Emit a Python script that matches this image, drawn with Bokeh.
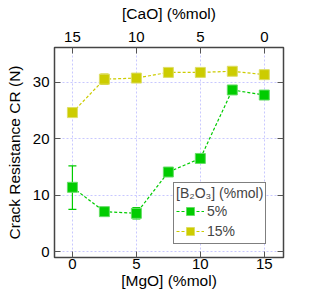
from bokeh.plotting import figure
from bokeh.models import (Range1d, LinearAxis, FixedTicker, ColumnDataSource,
                          Whisker, Legend, LegendItem, TeeHead)
from bokeh.embed import file_html
from bokeh.resources import INLINE

# ---- data ----
mgo = [0, 2.5, 5, 7.5, 10, 12.5, 15]
cao_tick_labels = ["15", "10", "5", "0"]
x_ticks = [0, 5, 10, 15]
y_ticks = [0, 10, 20, 30]
cr_b5 = [11.4, 7.1, 6.8, 14.1, 16.5, 28.6, 27.7]
cr_b15 = [24.6, 30.5, 30.7, 31.7, 31.7, 31.9, 31.3]
err_b5_x = [0, 5]
err_b5_lo = [7.5, 5.8]
err_b5_hi = [15.2, 7.8]
err_b15_x = [2.5]
err_b15_lo = [29.6]
err_b15_hi = [31.4]

FONT = "Liberation Sans"
GREEN = "#00cc00"
GREEN_EDGE = "#66dd66"
YELLOW = "#cccc00"
YELLOW_EDGE = "#dddd66"

p = figure(width=301, height=292, output_backend="svg", toolbar_location=None,
           x_range=Range1d(-1.4, 16.5), y_range=Range1d(-1.0, 36.1),
           min_border_left=54, min_border_right=18, min_border_top=47,
           min_border_bottom=35)

p.outline_line_color = "#444444"
p.outline_line_width = 1.5
p.background_fill_color = "white"
p.border_fill_color = "white"

for g in (p.xgrid, p.ygrid):
    g.grid_line_color = "#c8c8ff"
    g.grid_line_dash = "2 2"
    g.grid_line_width = 1
p.xgrid.ticker = FixedTicker(ticks=x_ticks)
p.ygrid.ticker = FixedTicker(ticks=y_ticks)

bottom = p.below[0]
left = p.left[0]
bottom.ticker = FixedTicker(ticks=x_ticks)
bottom.axis_label = "[MgO] (%mol)"
left.ticker = FixedTicker(ticks=y_ticks)
left.axis_label = "Crack Resistance CR (N)"

top = LinearAxis(ticker=FixedTicker(ticks=x_ticks),
                 major_label_overrides={t: l for t, l in zip(x_ticks, cao_tick_labels)},
                 axis_label="[CaO] (%mol)")
right = LinearAxis(ticker=FixedTicker(ticks=y_ticks),
                   major_label_overrides={t: "" for t in y_ticks})
p.add_layout(top, "above")
p.add_layout(right, "right")

for ax in (bottom, left, top, right):
    ax.major_tick_in = 6
    ax.major_tick_out = 0
    ax.minor_tick_line_color = None
    ax.major_tick_line_color = "#555555"
    ax.axis_line_color = "#444444"
    ax.major_label_text_font = FONT
    ax.major_label_text_font_size = "15px"
    ax.major_label_text_color = "black"
    ax.axis_label_text_font = FONT
    ax.axis_label_text_font_size = "15.5px"
    ax.axis_label_text_font_style = "normal"
    ax.axis_label_text_color = "black"
bottom.major_label_standoff = 1
bottom.axis_label_standoff = 0
top.major_label_standoff = 6
top.axis_label_standoff = 7
left.major_label_standoff = 5
left.axis_label_standoff = 7

# error bars
src_e5 = ColumnDataSource(dict(x=err_b5_x, lo=err_b5_lo, hi=err_b5_hi))
src_e15 = ColumnDataSource(dict(x=err_b15_x, lo=err_b15_lo, hi=err_b15_hi))
for src, col in ((src_e5, GREEN), (src_e15, YELLOW)):
    w = Whisker(base="x", lower="lo", upper="hi", source=src,
                line_color=col, line_width=1.2,
                upper_head=TeeHead(size=8, line_color=col, line_width=1.2),
                lower_head=TeeHead(size=8, line_color=col, line_width=1.2))
    p.add_layout(w)

l5 = p.line(mgo, cr_b5, line_color=GREEN, line_dash="3 2", line_width=1.2)
s5 = p.scatter(mgo, cr_b5, marker="square", size=10, fill_color=GREEN,
               line_color=GREEN_EDGE, line_width=1)
l15 = p.line(mgo, cr_b15, line_color=YELLOW, line_dash="3 2", line_width=1.2)
s15 = p.scatter(mgo, cr_b15, marker="square", size=10, fill_color=YELLOW,
                line_color=YELLOW_EDGE, line_width=1)

legend = Legend(items=[LegendItem(label="5%", renderers=[l5, s5]),
                       LegendItem(label="15%", renderers=[l15, s15])],
                location=(119, 13), title="[B\u2082O\u2083] (%mol)")
legend.title_text_font = FONT
legend.title_text_font_size = "14px"
legend.title_text_font_style = "normal"
legend.title_standoff = 0
legend.label_text_font = FONT
legend.label_text_font_size = "14px"
legend.border_line_color = "black"
legend.border_line_width = 1
legend.background_fill_alpha = 1
legend.padding = 2
legend.margin = 0
legend.spacing = -3
legend.glyph_width = 28
legend.glyph_height = 20
legend.label_standoff = 3
legend.label_height = 16
p.add_layout(legend, "center")

open("out.html", "w").write(file_html(p, INLINE))
